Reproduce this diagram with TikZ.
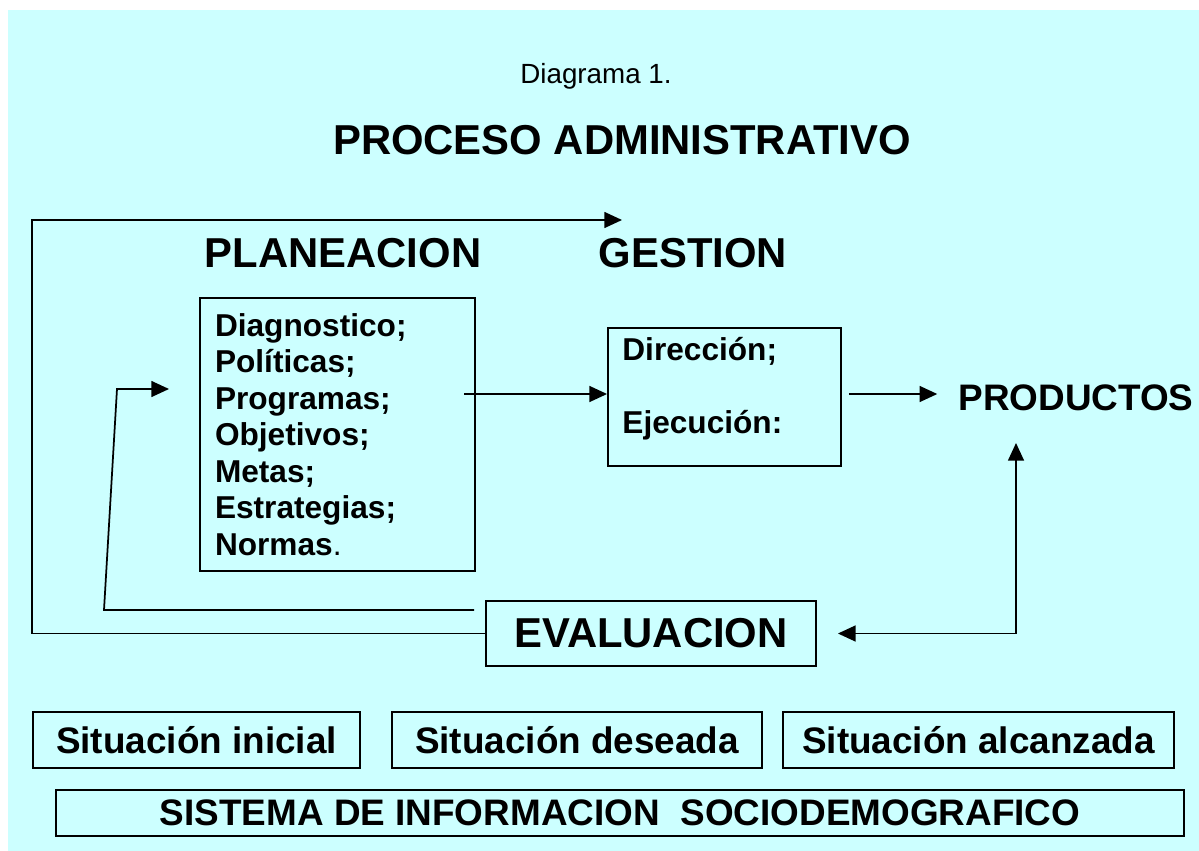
\documentclass[tikz,border=0pt]{standalone}
\usepackage{fontspec}
\setmainfont{Liberation Sans}
\usetikzlibrary{arrows.meta}
\definecolor{fondo}{RGB}{204,255,255}
\newcommand{\grande}{\fontsize{23.8pt}{28pt}\bfseries\selectfont}
\newcommand{\mediano}{\fontsize{21pt}{25pt}\bfseries\selectfont}
\newcommand{\lista}{\fontsize{18pt}{20.8pt}\bfseries\selectfont}

\begin{document}
\begin{tikzpicture}[x=0.02cm, y=-0.02cm,
    caja/.style={draw, line width=1.1pt, inner sep=0pt},
    flecha/.style={line width=1pt, -{Triangle[length=10pt,width=9pt]}},
    flechas/.style={line width=1pt, {Triangle[length=10pt,width=9pt]}-{Triangle[length=10pt,width=9pt]}}]
    \useasboundingbox (0,0) rectangle (1199,851);
    \fill[fondo] (8,10) rectangle (1199,851);

    \node (titulo) at (596,76) {\fontsize{15.8pt}{18pt}\selectfont Diagrama 1.};
    \node[font=\grande] (proceso) at (622,140) {PROCESO ADMINISTRATIVO};
    \node[font=\grande] (planeacion) at (343,253) {PLANEACION};
    \node[font=\grande] (gestion) at (693,253) {GESTION};

    \node[caja, minimum width=5.5cm, minimum height=5.46cm, text width=4.9cm, align=left, font=\lista] (plan) at (337.5,434.5)
        {Diagnostico;\\ Políticas;\\ Programas;\\ Objetivos;\\ Metas;\\ Estrategias;\\ Normas{\mdseries .}};
    \node[caja, minimum width=4.66cm, minimum height=2.76cm] (ges) at (724.5,397) {};
    \node[anchor=north west, inner sep=0pt, align=left, font=\lista] (tareas) at ([shift={(0.3cm,-0.2cm)}]ges.north west)
        {Dirección;\\[20.8pt] Ejecución:};
    \node[font=\mediano] (prod) at (1076,398) {PRODUCTOS};
    \node[caja, minimum width=6.6cm, minimum height=1.3cm, font=\grande] (eval) at (651,633.5) {EVALUACION};

    \node[caja, minimum width=6.54cm, minimum height=1.12cm, font=\mediano] (inicial) at (196.5,740) {Situación inicial};
    \node[caja, minimum width=7.4cm, minimum height=1.12cm, font=\mediano] (deseada) at (577,740) {Situación deseada};
    \node[caja, minimum width=7.82cm, minimum height=1.12cm, font=\mediano] (alcanzada) at (978.5,740) {Situación alcanzada};
    \node[caja, minimum width=22.56cm, minimum height=0.92cm, font=\mediano] (sistema) at (620,813) {SISTEMA DE INFORMACION\ \ SOCIODEMOGRAFICO};

    \coordinate (esq) at (32,220);
    \coordinate (sup) at (622,220);
    \draw[flecha] (eval.west) -| (esq) -- (sup);

    \coordinate (ret0) at (474,610);
    \coordinate (ret1) at (104,610);
    \coordinate (ret2) at (117,389);
    \coordinate (ret3) at (169,389);
    \draw[flecha] (ret0) -- (ret1) -- (ret2) -- (ret3);

    \coordinate (salida) at (464,394);
    \draw[flecha] (salida) -- (salida -| ges.west);
    \draw[flecha, shorten >=0.3cm] ([xshift=0.14cm]ges.east |- salida) -- (prod.west |- salida);

    \coordinate (pbase) at (1016,443);
    \draw[flechas] ([xshift=0.42cm]eval.east) -| (pbase);
\end{tikzpicture}
\end{document}
